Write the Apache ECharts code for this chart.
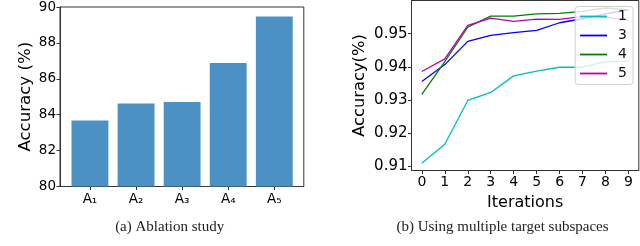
<!DOCTYPE html>
<html>
<head>
<meta charset="utf-8">
<script src="https://cdn.jsdelivr.net/npm/echarts@6/dist/echarts.min.js"></script>
<style>
html,body{margin:0;padding:0;background:#fff;}
#c{width:640px;height:246px;}
</style>
</head>
<body>
<div id="c"></div>
<script>
// ---- data: (a) ablation study ----
var ablationCategories = ['A\u2081', 'A\u2082', 'A\u2083', 'A\u2084', 'A\u2085'];
var ablationValues = [83.68, 84.62, 84.71, 86.88, 89.47];
var ablationTicks = [80, 82, 84, 86, 88, 90];

// ---- data: (b) multiple target subspaces ----
var iterations = [0, 1, 2, 3, 4, 5, 6, 7, 8, 9];
var seriesNames = ['1', '3', '4', '5'];
var acc1 = [0.9110, 0.9167, 0.9299, 0.9323, 0.9373, 0.9387, 0.9399, 0.9399, 0.9416, 0.9416];
var acc3 = [0.9356, 0.9407, 0.9477, 0.9495, 0.9503, 0.9510, 0.9533, 0.9545, 0.9560, 0.9572];
var acc4 = [0.9317, 0.9416, 0.9520, 0.9553, 0.9553, 0.9560, 0.9561, 0.9567, 0.9578, 0.9572];
var acc5 = [0.9386, 0.9424, 0.9525, 0.9547, 0.9537, 0.9544, 0.9543, 0.9552, 0.9550, 0.9540];
var accTicks = [0.91, 0.92, 0.93, 0.94, 0.95];

var lineColors = ['#00bfbf', '#0000ff', '#008000', '#bf00bf'];
var FONT = 'DejaVu Sans';
var FRAME = '#333';

function pairs(xs, ys) { return xs.map(function (x, i) { return [x, ys[i]]; }); }

var chart = echarts.init(document.getElementById('c'), null, {renderer: 'canvas'});

var lineData = [acc1, acc3, acc4, acc5];
var lineSeries = seriesNames.map(function (n, k) {
  return {
    name: n, type: 'line', xAxisIndex: 1, yAxisIndex: 1,
    data: pairs(iterations, lineData[k]),
    symbol: 'none', showSymbol: false,
    lineStyle: {color: lineColors[k], width: 1.3},
    itemStyle: {color: lineColors[k]},
    emphasis: {disabled: true}, animation: false
  };
});

var option = {
  animation: false,
  title: [
    {text: '(a) Ablation study', left: 164.7, top: 215, textAlign: 'center',
     textStyle: {fontFamily: 'Liberation Serif', fontSize: 15, fontWeight: 'normal', color: '#222'}},
    {text: '(b) Using multiple target subspaces', left: 497.5, top: 215, textAlign: 'center',
     textStyle: {fontFamily: 'Liberation Serif', fontSize: 15, fontWeight: 'normal', color: '#222'}}
  ],
  legend: {
    data: seriesNames, orient: 'vertical', right: 7, top: 6.5,
    itemWidth: 27, itemHeight: 14, itemGap: 5,
    padding: [3, 6, 4, 4],
    backgroundColor: 'rgba(255,255,255,0.8)', borderColor: '#d0d0d0', borderWidth: 1, borderRadius: 3,
    itemStyle: {opacity: 0, borderWidth: 0},
    lineStyle: {width: 1.8},
    textStyle: {fontFamily: FONT, fontSize: 14, color: '#111', padding: [0, 0, 0, 6]},
    selectedMode: false
  },
  grid: [
    {left: 60, top: 5, width: 243.8, height: 181.5, show: true, borderColor: FRAME, borderWidth: 1, backgroundColor: 'transparent'},
    {left: 411.5, top: 0.5, width: 227.3, height: 170, show: true, borderColor: FRAME, borderWidth: 1, backgroundColor: 'transparent'}
  ],
  xAxis: [
    {type: 'value', gridIndex: 0, min: -0.65, max: 4.64,
     axisLine: {show: true, onZero: false, lineStyle: {color: FRAME}},
     axisTick: {show: true, length: 3.5, customValues: [0, 1, 2, 3, 4], lineStyle: {color: FRAME}},
     axisLabel: {customValues: [0, 1, 2, 3, 4], margin: 6, fontFamily: FONT, fontSize: 13.5, color: '#000',
       formatter: function (v) { return ablationCategories[Math.round(v)]; }},
     splitLine: {show: false}},
    {type: 'value', gridIndex: 1, min: -0.45, max: 9.45,
     name: 'Iterations', nameLocation: 'middle', nameGap: 17,
     nameTextStyle: {fontFamily: FONT, fontSize: 16, color: '#000'},
     axisLine: {show: true, onZero: false, lineStyle: {color: FRAME}},
     axisTick: {show: true, length: 3.5, customValues: iterations, lineStyle: {color: FRAME}},
     axisLabel: {customValues: iterations, margin: 5, fontFamily: FONT, fontSize: 14, color: '#000'},
     splitLine: {show: false}}
  ],
  yAxis: [
    {type: 'value', gridIndex: 0, min: 80, max: 90, interval: 2,
     name: 'Accuracy (%)', nameLocation: 'middle', nameGap: 26,
     nameTextStyle: {fontFamily: FONT, fontSize: 16.6, color: '#000'},
     axisLine: {show: true, onZero: false, lineStyle: {color: FRAME}},
     axisTick: {show: true, length: 3.5, lineStyle: {color: FRAME}},
     axisLabel: {margin: 4, fontFamily: FONT, fontSize: 13.5, color: '#000'},
     splitLine: {show: false}},
    {type: 'value', gridIndex: 1, min: 0.9088, max: 0.9600,
     name: 'Accuracy(%)', nameLocation: 'middle', nameGap: 44,
     nameTextStyle: {fontFamily: FONT, fontSize: 16.3, color: '#000'},
     axisLine: {show: true, onZero: false, lineStyle: {color: FRAME}},
     axisTick: {show: true, length: 3.5, customValues: accTicks, lineStyle: {color: FRAME}},
     axisLabel: {customValues: accTicks, margin: 4, fontFamily: FONT, fontSize: 15, color: '#000',
       formatter: function (v) { return v.toFixed(2); }},
     splitLine: {show: false}}
  ],
  series: [
    {type: 'bar', xAxisIndex: 0, yAxisIndex: 0,
     data: pairs(ablationCategories.map(function (c, i) { return i; }), ablationValues),
     barWidth: '80%', itemStyle: {color: '#4b91c3'}, emphasis: {disabled: true}}
  ].concat(lineSeries)
};
chart.setOption(option);
</script>
</body>
</html>
